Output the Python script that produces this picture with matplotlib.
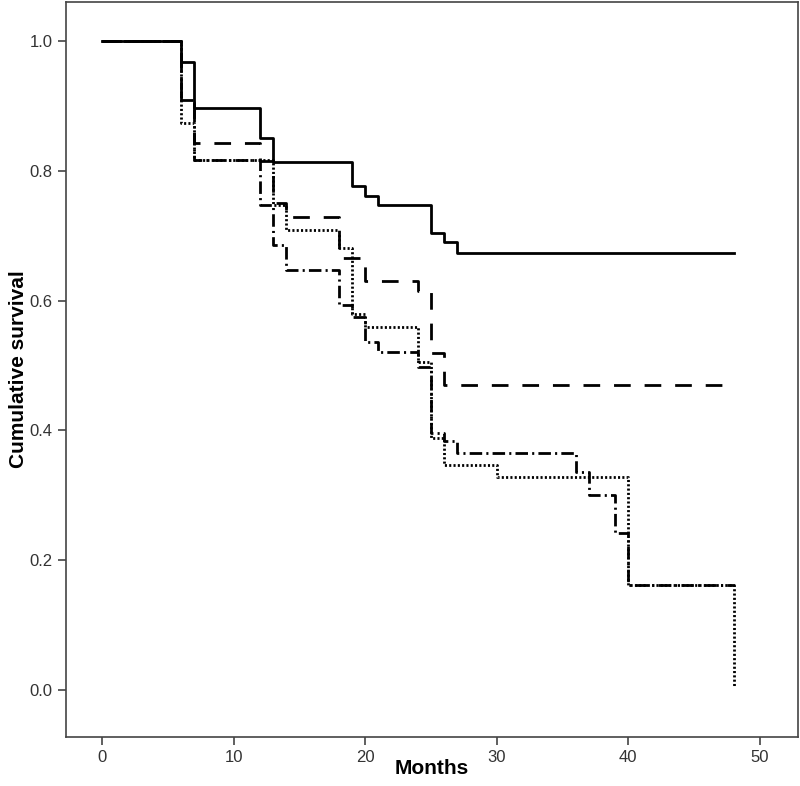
import numpy as np
import matplotlib
matplotlib.use('Agg')
import matplotlib.pyplot as plt

plt.rcParams['font.family'] = ['Liberation Sans Narrow', 'Liberation Sans', 'DejaVu Sans']
plt.rcParams['lines.scale_dashes'] = False

# step times (months) and survival after each step
solid_t = [0, 6, 7, 12, 13, 19, 20, 21, 25, 26, 27, 48]
solid_s = [1.0, 0.967, 0.897, 0.850, 0.813, 0.777, 0.762, 0.748, 0.705, 0.690, 0.674, 0.674]

dashed_t = [0, 6, 7, 12, 13, 14, 18, 20, 24, 25, 26, 48]
dashed_s = [1.0, 0.906, 0.843, 0.815, 0.750, 0.729, 0.666, 0.630, 0.615, 0.520, 0.470, 0.470]

dotted_t = [0, 6, 7, 13, 14, 18, 19, 20, 24, 25, 26, 30, 40, 48]
dotted_s = [1.0, 0.874, 0.816, 0.747, 0.709, 0.681, 0.580, 0.559, 0.505, 0.388, 0.347, 0.329, 0.162, 0.005]

dashdot_t = [0, 6, 7, 12, 13, 14, 18, 19, 20, 21, 24, 25, 26, 27, 36, 37, 39, 40, 48]
dashdot_s = [1.0, 0.909, 0.816, 0.747, 0.686, 0.647, 0.593, 0.575, 0.536, 0.521, 0.498,
             0.396, 0.383, 0.365, 0.336, 0.300, 0.242, 0.162, 0.162]

fig = plt.figure(figsize=(8, 7.86), dpi=100)
ax = fig.add_axes([0.0825, 0.0623, 0.915, 0.935])

lw = 2.0
ax.step(solid_t, solid_s, where='post', color='black', lw=lw, linestyle='-')
ax.step(dashed_t, dashed_s, where='post', color='black', lw=lw, linestyle=(0, (12, 10)))
ax.step(dashdot_t, dashdot_s, where='post', color='black', lw=lw, linestyle=(0, (9, 3, 1.5, 3)))
ax.step(dotted_t, dotted_s, where='post', color='black', lw=lw, linestyle=(0, (1.5, 1.6)))

ax.set_xlim(-2.74, 52.9)
ax.set_ylim(-0.0724, 1.06)
ax.set_xticks([0, 10, 20, 30, 40, 50])
ax.set_yticks([0.0, 0.2, 0.4, 0.6, 0.8, 1.0])
ax.set_yticklabels(['0.0', '0.2', '0.4', '0.6', '0.8', '1.0'])

for sp in ax.spines.values():
    sp.set_color('#444444')
    sp.set_linewidth(1.2)
ax.tick_params(direction='out', length=6, width=1.2, color='#444444',
               labelsize=12, labelcolor='#333333')

ax.set_xlabel('Months', fontsize=15, fontweight='bold')
ax.set_ylabel('Cumulative survival', fontsize=15, fontweight='bold')
ax.xaxis.set_label_coords(0.5, -0.030)
ax.yaxis.set_label_coords(-0.052, 0.5)

fig.savefig('out.png', dpi=100)
